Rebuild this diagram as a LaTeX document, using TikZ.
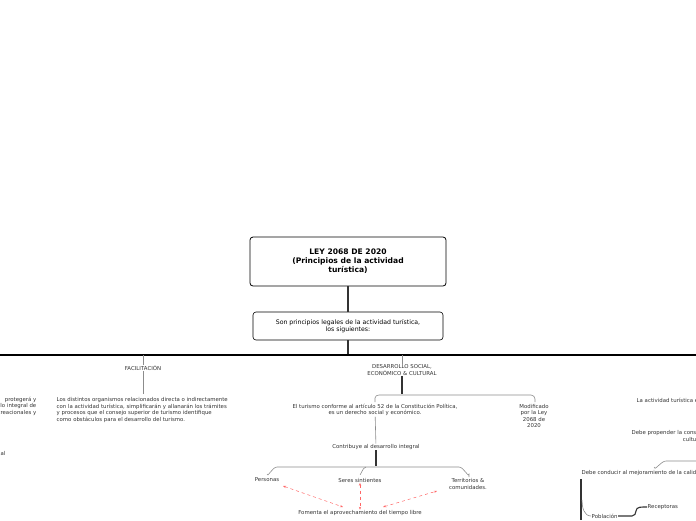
\documentclass[tikz,border=0pt]{standalone}
\usepackage{fontspec}
\setmainfont{DejaVu Sans}
\usetikzlibrary{arrows.meta,positioning}
\tikzset{
	txt/.style={font=\fontsize{5.4}{6.4}\selectfont, text=black!80, inner sep=0.5pt, align=center},
	conn/.style={draw=black!45, line width=0.6pt},
	thick conn/.style={draw=black!80, line width=1.1pt},
	rel/.style={draw=red!60, dashed, line width=0.5pt, {Stealth[length=3pt]}-{Stealth[length=3pt]}},
}
\begin{document}
\begin{tikzpicture}[x=1pt,y=-1pt]
	\useasboundingbox (0,0) rectangle (696,520);
	% top boxes
	\node[draw,rounded corners=3pt,line width=0.8pt,minimum width=196pt,minimum height=49pt,align=center,font=\bfseries\fontsize{7.6}{9}\selectfont] (T) at (348,261.5) {LEY 2068 DE 2020\\(Principios de la actividad\\turística)};
	\node[draw,rounded corners=3pt,line width=0.6pt,minimum width=190pt,minimum height=28pt,align=center,font=\fontsize{6.2}{7.4}\selectfont] (S) at (348,326) {Son principios legales de la actividad turística,\\los siguientes:};
	\coordinate (M) at (348,355);
	\draw[thick conn] (T) -- (S);
	\draw[thick conn] (S) -- (M);
	\draw[line width=1.3pt] (0,355) -- (696,355);
	% facilitacion
	\node[txt] (F) at (143,368) {FACILITACIÓN};
	\node[txt,align=left,anchor=west] (F1) at (56,410) {Los distintos organismos relacionados directa o indirectamente\\con la actividad turística, simplificarán y allanarán los trámites\\y procesos que el consejo superior de turismo identifique\\como obstáculos para el desarrollo del turismo.};
	\draw[conn] (143,355) -- (F);
	\draw[conn] (F) -- (143,394);
	\node[txt,align=right,anchor=east] (L1) at (37,406) {protegerá y\\llo integral de\\creacionales y};
	\node[txt,anchor=west] (L2) at (0,453) {al};
	% desarrollo
	\node[txt] (D) at (402,370) {DESARROLLO SOCIAL,\\ECONÓMICO \& CULTURAL};
	\draw[conn] (402,355) -- (D);
	\node[txt] (D1) at (375,410) {El turismo conforme al artículo 52 de la Constitución Política,\\es un derecho social y económico.};
	\node[txt] (D2) at (534,416) {Modificado\\por la Ley\\2068 de\\2020};
	\draw[thick conn] (D) -- (402,394);
	\draw[conn] (375,402) -- (375,398) to[out=90,in=180] (379,395) -- (531,395) to[out=0,in=90] (535,399) -- (535,402);
	\node[txt] (C) at (376,447) {Contribuye al desarrollo integral};
	\draw[conn] (D1) -- (C);
	\draw[thick conn] (C) -- (376,466);
	\node[txt] (P) at (267,480) {Personas};
	\node[txt] (SS) at (360,480) {Seres sintientes};
	\node[txt] (TC) at (468,484) {Territorios \&\\comunidades.};
	\node[txt] (FO) at (360,513) {Fomenta el aprovechamiento del tiempo libre};
	\draw[conn] (267,474) to[out=-90,in=180] (277,467) -- (459,467) to[out=0,in=-90] (469,474) -- (469,477);
	\draw[conn] (360,474) to[out=-90,in=180] (366,467);
	\draw[rel] (283,486) -- (343,507);
	\draw[rel] (SS) -- (FO);
	\draw[rel] (383,507) -- (437,491);
	% right side
	\node[txt,anchor=west] (R1) at (636,400) {La actividad turística e};
	\node[txt,anchor=west,align=right] (R2) at (630,436) {Debe propender la cons\\\hphantom{Debe propender la }cultu};
	\node[txt,anchor=west] (R3) at (581,473) {Debe conducir al mejoramiento de la calid};
	\draw[conn] (654,467) to[out=-90,in=180] (666,461) -- (696,461);
	\draw[thick conn] (581,479) -- (581,520);
	\node[txt,anchor=west] (PO) at (591,516) {Población};
	\node[txt,anchor=west] (RE) at (647,507) {Receptoras};
	\draw[conn] (582,500) to[out=-90,in=180] (PO.west);
	\draw[thick conn] (PO.east) -- (632,516) to[out=0,in=-90] (636,511) to[out=90,in=180] (RE.west);
\end{tikzpicture}
\end{document}
